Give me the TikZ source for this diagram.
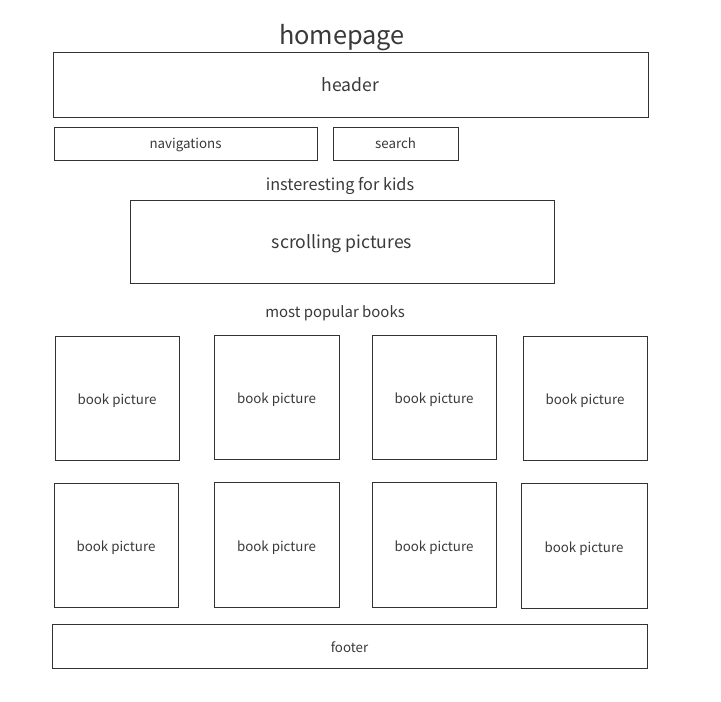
\documentclass[tikz,border=0pt]{standalone}
\usepackage{fontspec}
\setmainfont{Noto Sans CJK SC}
\definecolor{txt}{HTML}{3A3A3A}
\definecolor{edge}{HTML}{333333}
\tikzset{
  box/.style={draw=edge, line width=0.75pt, fill=white, rectangle, inner sep=0pt, text=txt, anchor=center, text height=0.98em, text depth=0em},
  lbl/.style={text=txt, inner sep=0pt, anchor=center, text height=0.98em, text depth=0em},
  smalltxt/.style={text height=0.8em}
}
\newcommand\bx[8][]{\node[box,#1,font=#8,minimum width={(#5-#3)*0.75pt},minimum height={(#6-#4)*0.75pt}] (#2) at ({(#3+#5)/2},{(#4+#6)/2}) {#7};}
\begin{document}
\begin{tikzpicture}[x=0.75pt,y=-0.75pt]
\useasboundingbox (0,0) rectangle (721,701);
\fill[white] (0,0) rectangle (721,701);
\node[lbl,font=\fontsize{19}{22}\selectfont] (title) at (342,37.5) {homepage};
\bx{header}{53}{52}{648}{117}{header}{\fontsize{13.2}{16}\selectfont}
\bx[smalltxt]{nav}{54}{127}{317}{160}{navigations}{\fontsize{10}{12}\selectfont}
\bx[smalltxt]{search}{333}{127}{458}{160}{search}{\fontsize{10}{12}\selectfont}
\node[lbl,font=\fontsize{12.2}{15}\selectfont] (kids) at (340,184) {insteresting for kids};
\bx{scroll}{130}{200}{554}{283}{scrolling pictures}{\fontsize{13.2}{16}\selectfont}
\node[lbl,font=\fontsize{11.2}{14}\selectfont] (popular) at (335,311) {most popular books};
\bx{b1}{55}{336}{179}{460}{book picture}{\fontsize{10}{12}\selectfont}
\bx{b2}{214}{335}{339}{459}{book picture}{\fontsize{10}{12}\selectfont}
\bx{b3}{372}{335}{496}{459}{book picture}{\fontsize{10}{12}\selectfont}
\bx{b4}{523}{336}{647}{460}{book picture}{\fontsize{10}{12}\selectfont}
\bx{b5}{54}{483}{178}{607}{book picture}{\fontsize{10}{12}\selectfont}
\bx{b6}{214}{482}{339}{607}{book picture}{\fontsize{10}{12}\selectfont}
\bx{b7}{372}{482}{496}{607}{book picture}{\fontsize{10}{12}\selectfont}
\bx{b8}{521}{483}{647}{608}{book picture}{\fontsize{10}{12}\selectfont}
\bx{footer}{52}{624}{647}{668}{footer}{\fontsize{10}{12}\selectfont}
\end{tikzpicture}
\end{document}
